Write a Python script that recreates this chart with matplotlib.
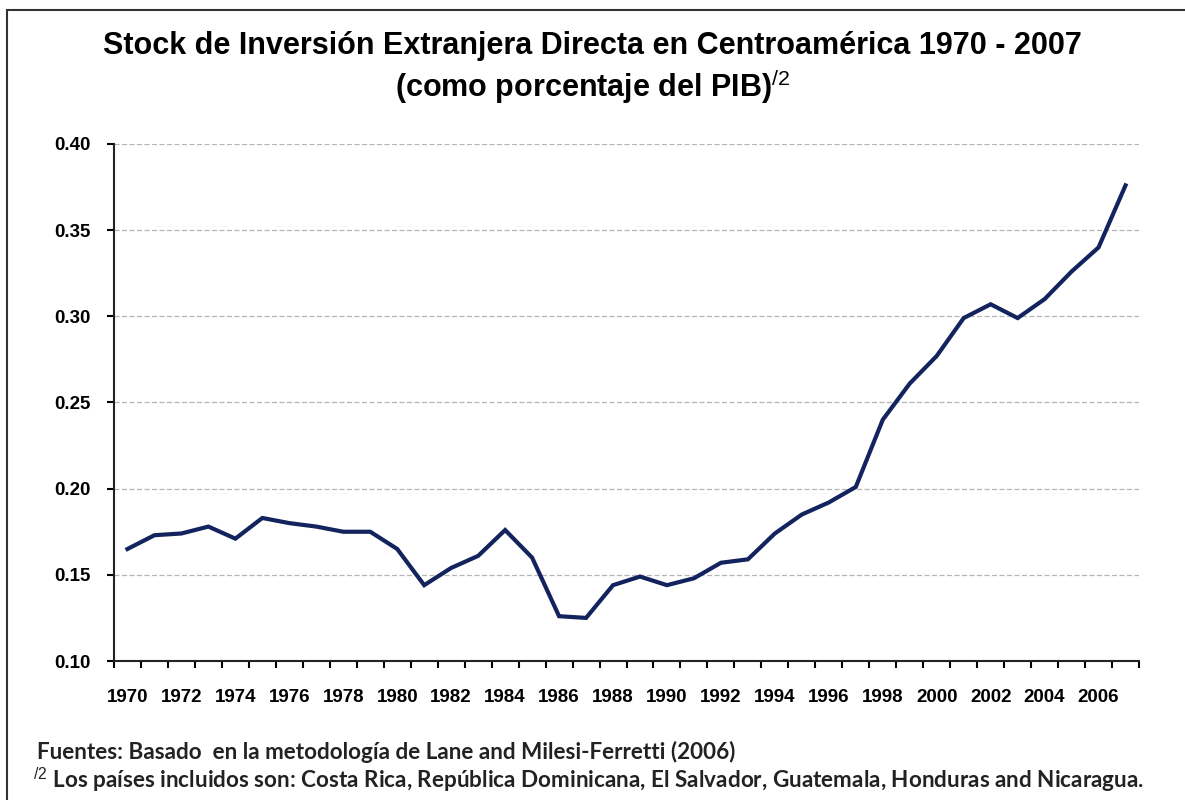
import matplotlib.pyplot as plt
import numpy as np
from matplotlib.patches import Rectangle

plt.rcParams['font.family'] = ['Liberation Sans', 'DejaVu Sans']
plt.rcParams['mathtext.fontset'] = 'custom'
plt.rcParams['mathtext.rm'] = 'Liberation Sans'

# Data
years = list(range(1970, 2008))
stock_ied = [0.165, 0.173, 0.174, 0.178, 0.171, 0.183, 0.180, 0.178, 0.175, 0.175,
             0.165, 0.144, 0.154, 0.161, 0.176, 0.160, 0.126, 0.125, 0.144, 0.149,
             0.144, 0.148, 0.157, 0.159, 0.174, 0.185, 0.192, 0.201, 0.240, 0.261,
             0.277, 0.299, 0.307, 0.299, 0.310, 0.326, 0.340, 0.376]
y_ticks = [0.10, 0.15, 0.20, 0.25, 0.30, 0.35, 0.40]

title_1 = "Stock de Inversión Extranjera Directa en Centroamérica 1970 - 2007"
title_2 = "(como porcentaje del PIB)$^{\\mathrm{/2}}$"
note_1 = "Fuentes: Basado  en la metodología de Lane and Milesi-Ferretti (2006)"
note_2 = "$^{\\mathrm{/2}}$ Los países incluidos son: Costa Rica, República Dominicana, El Salvador, Guatemala, Honduras and Nicaragua."

fig = plt.figure(figsize=(11.85, 8), dpi=100)
ax = fig.add_axes([0.0962, 0.17375, 0.865, 0.64625])

x = np.arange(len(years))
ax.plot(x, stock_ied, color="#13235e", linewidth=3.0, solid_joinstyle="miter")

ax.set_xlim(-0.5, len(years) - 0.5)
ax.set_ylim(0.10, 0.40)
ax.set_yticks(y_ticks)
ax.set_yticklabels([f"{v:.2f}" for v in y_ticks], fontsize=13.5, fontweight="bold")
ax.set_xticks(x[::2])
ax.set_xticklabels([str(y) for y in years[::2]], fontsize=13.5, fontweight="bold")
ax.set_xticks(np.arange(-0.5, len(years), 1), minor=True)
ax.tick_params(axis="x", which="major", length=0, pad=20)
ax.tick_params(axis="x", which="minor", length=5, width=1.5, direction="out")
ax.tick_params(axis="y", length=5, width=1.5, direction="out", pad=12)

ax.grid(axis="y", color="#b5b5b5", linestyle=(0, (4, 2)), linewidth=0.9)
ax.set_axisbelow(True)
for s in ["top", "right"]:
    ax.spines[s].set_visible(False)
for s in ["left", "bottom"]:
    ax.spines[s].set_linewidth(1.5)
    ax.spines[s].set_color("#222222")

fig.text(0.5, 1 - 46 / 800, title_1, ha="center", va="center", fontsize=22, fontweight="bold")
fig.text(0.5, 1 - 87 / 800, title_2, ha="center", va="center", fontsize=22, fontweight="bold")

fig.text(37 / 1185, 1 - 752 / 800, note_1, ha="left", va="center", fontsize=16.2, fontweight="bold",
         family=["Lato", "DejaVu Sans"], color="#222222")
fig.text(33 / 1185, 1 - 780 / 800, note_2, ha="left", va="center", fontsize=16.2, fontweight="bold",
         family=["Lato", "DejaVu Sans"], color="#222222")

fig.patches.append(Rectangle((7 / 1185, -0.05), 1.1, 1 - 10 / 800 + 0.05, transform=fig.transFigure,
                             fill=False, linewidth=1.5, edgecolor="#333333"))

fig.savefig("out.png", dpi=100)
